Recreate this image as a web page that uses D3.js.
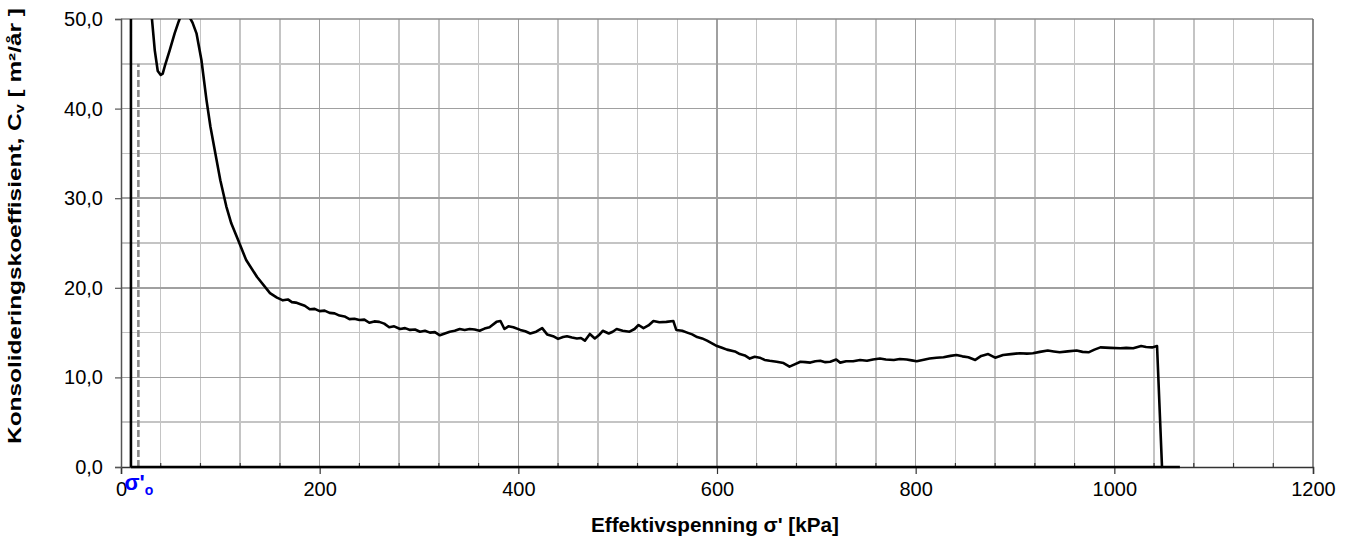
<!DOCTYPE html>
<html>
<head>
<meta charset="utf-8">
<script src="https://cdn.jsdelivr.net/npm/d3@7"></script>
<style>
  html, body { margin: 0; padding: 0; background: #fff; }
  svg { display: block; font-family: "Liberation Sans", Arial, sans-serif; }
</style>
</head>
<body>
<svg id="chart" width="1345" height="540"></svg>
<script>
// Effective stress (kPa) and consolidation coefficient cv (m²/år) along the test
const sigma = [10, 10, 30, 31, 34, 37, 40, 42, 44, 49, 54, 58, 60, 65, 69, 72, 76, 81, 86, 90, 95, 100, 106, 111, 118, 126, 137, 150, 157, 163, 168, 172, 176, 180, 185, 190, 195, 200, 205, 210, 215, 220, 225, 230, 235, 240, 245, 250, 255, 260, 265, 270, 275, 281, 286, 291, 296, 301, 306, 311, 316, 321, 326, 331, 336, 341, 346, 351, 356, 361, 366, 371, 378, 382, 386, 390, 395, 402, 407, 412, 418, 424, 429, 435, 440, 445, 449, 454, 459, 463, 467, 472, 477, 481, 485, 491, 495, 499, 505, 512, 517, 521, 526, 531, 536, 542, 549, 556, 559, 565, 570, 575, 580, 585, 590, 595, 600, 605, 610, 618, 623, 628, 633, 638, 643, 648, 653, 660, 667, 673, 677, 684, 689, 694, 699, 704, 709, 714, 720, 724, 730, 737, 744, 751, 757, 764, 770, 778, 784, 791, 796, 801, 807, 814, 821, 828, 835, 841, 847, 853, 860, 866, 873, 880, 888, 896, 905, 912, 918, 925, 933, 939, 945, 953, 962, 968, 974, 980, 986, 996, 1006, 1012, 1019, 1027, 1032, 1038, 1043, 1048, 1066];
const cv = [0, 58, 58, 50.2, 46.5, 44.2, 43.75, 43.9, 44.7, 46.5, 48.4, 49.7, 50.3, 50.5, 50.2, 49.6, 48.4, 45.4, 41.0, 38.0, 35.0, 32.0, 29.1, 27.2, 25.3, 23.1, 21.2, 19.4, 18.9, 18.6, 18.7, 18.4, 18.35, 18.2, 18.0, 17.6, 17.65, 17.4, 17.45, 17.2, 17.15, 16.9, 16.8, 16.5, 16.55, 16.4, 16.45, 16.1, 16.25, 16.2, 16.0, 15.6, 15.7, 15.4, 15.5, 15.3, 15.35, 15.1, 15.2, 15.0, 15.05, 14.7, 14.9, 15.1, 15.2, 15.4, 15.3, 15.4, 15.35, 15.2, 15.45, 15.6, 16.2, 16.3, 15.4, 15.7, 15.6, 15.3, 15.15, 14.9, 15.1, 15.5, 14.8, 14.6, 14.3, 14.5, 14.6, 14.45, 14.35, 14.4, 14.1, 14.85, 14.35, 14.7, 15.2, 14.9, 15.1, 15.4, 15.2, 15.1, 15.4, 15.85, 15.5, 15.8, 16.3, 16.15, 16.2, 16.3, 15.3, 15.2, 15.0, 14.8, 14.5, 14.35, 14.1, 13.8, 13.5, 13.3, 13.1, 12.9, 12.6, 12.45, 12.1, 12.3, 12.2, 11.95, 11.85, 11.75, 11.6, 11.2, 11.4, 11.75, 11.7, 11.65, 11.8, 11.85, 11.7, 11.75, 12.0, 11.65, 11.8, 11.8, 11.95, 11.85, 12.0, 12.1, 12.0, 11.95, 12.05, 12.0, 11.9, 11.8, 11.95, 12.1, 12.2, 12.25, 12.4, 12.5, 12.35, 12.25, 11.95, 12.4, 12.6, 12.2, 12.5, 12.6, 12.7, 12.65, 12.7, 12.85, 13.0, 12.9, 12.8, 12.9, 13.0, 12.85, 12.8, 13.1, 13.35, 13.3, 13.25, 13.3, 13.25, 13.5, 13.4, 13.35, 13.5, 0, 0];

// Zero-level series along the stress axis
const zeroSigma = [10, 1048];
const zeroCv = [0, 0];

// In-situ effective stress marker
const sigma0 = 17.5;
const sigma0Top = 45;

// Axis ticks
const xTicks = [0, 200, 400, 600, 800, 1000, 1200];
const xMinorTicks = d3.range(0, 1201, 40);
const yTicks = [0, 10, 20, 30, 40, 50];
const yMinorTicks = d3.range(0, 51, 5);

const svg = d3.select("#chart");
const W = 1345, H = 540;
const m = { left: 121, right: 32, top: 19, bottom: 73 };
const pw = W - m.left - m.right, ph = H - m.top - m.bottom;

const x = d3.scaleLinear().domain([0, 1200]).range([m.left, m.left + pw]);
const y = d3.scaleLinear().domain([0, 50]).range([m.top + ph, m.top]);

const fmt = v => d3.format(".1f")(v).replace(".", ",");

// Grid: minor lines first, major on top
const grid = svg.append("g");
grid.selectAll("line.vmin").data(xMinorTicks.filter(d => d % 200 !== 0)).join("line")
  .attr("x1", d => x(d)).attr("x2", d => x(d)).attr("y1", y(0)).attr("y2", y(50))
  .attr("stroke", "#c4c4c4").attr("stroke-width", 1.5).attr("shape-rendering", "crispEdges");
grid.selectAll("line.hmin").data(yMinorTicks.filter(d => d % 10 !== 0)).join("line")
  .attr("x1", x(0)).attr("x2", x(1200)).attr("y1", d => y(d)).attr("y2", d => y(d))
  .attr("stroke", "#c4c4c4").attr("stroke-width", 1.5).attr("shape-rendering", "crispEdges");
grid.selectAll("line.vmaj").data(xTicks.filter(d => d > 0 && d < 1200)).join("line")
  .attr("x1", d => x(d)).attr("x2", d => x(d)).attr("y1", y(0)).attr("y2", y(50))
  .attr("stroke", "#a0a0a0").attr("stroke-width", 1.5).attr("shape-rendering", "crispEdges");
grid.selectAll("line.hmaj").data(yTicks.filter(d => d > 0 && d < 50)).join("line")
  .attr("x1", x(0)).attr("x2", x(1200)).attr("y1", d => y(d)).attr("y2", d => y(d))
  .attr("stroke", "#a0a0a0").attr("stroke-width", 1.5).attr("shape-rendering", "crispEdges");

// Plot frame
svg.append("line").attr("x1", x(0)).attr("x2", x(1200)).attr("y1", y(50)).attr("y2", y(50))
  .attr("stroke", "#888").attr("stroke-width", 1.5);
svg.append("line").attr("x1", x(1200)).attr("x2", x(1200)).attr("y1", y(50)).attr("y2", y(0))
  .attr("stroke", "#666").attr("stroke-width", 1.5);

// Axes
const xAxis = svg.append("g").attr("transform", `translate(0,${y(0)})`)
  .call(d3.axisBottom(x).tickValues(xTicks).tickSize(7).tickPadding(8).tickFormat(d3.format("d")));
xAxis.select(".domain").attr("stroke", "#333").attr("stroke-width", 1.5);
xAxis.selectAll(".tick line").attr("stroke", "#333").attr("stroke-width", 1.2);
xAxis.selectAll("text").attr("font-size", 20).attr("fill", "#000")
  .attr("font-family", "'Liberation Sans', Arial, sans-serif");

// Minor inward ticks on the stress axis
svg.append("g").selectAll("line").data(xMinorTicks.filter(d => d % 200 !== 0)).join("line")
  .attr("x1", d => x(d)).attr("x2", d => x(d)).attr("y1", y(0)).attr("y2", y(0) - 4)
  .attr("stroke", "#333").attr("stroke-width", 1.2);

const yAxis = svg.append("g").attr("transform", `translate(${x(0)},0)`)
  .call(d3.axisLeft(y).tickValues(yTicks).tickSize(6).tickPadding(12).tickFormat(fmt));
yAxis.select(".domain").attr("stroke", "#555").attr("stroke-width", 1.5);
yAxis.selectAll(".tick line").attr("stroke", "#555").attr("stroke-width", 1.2);
yAxis.selectAll("text").attr("font-size", 20).attr("fill", "#000")
  .attr("font-family", "'Liberation Sans', Arial, sans-serif");

// Clip region for data
svg.append("clipPath").attr("id", "plotClip").append("rect")
  .attr("x", x(0)).attr("y", y(50)).attr("width", pw + 1).attr("height", ph + 2);

const line = d3.line().x(d => x(d[0])).y(d => y(d[1]));
const plot = svg.append("g").attr("clip-path", "url(#plotClip)");

// In-situ stress marker (dashed)
plot.append("path")
  .attr("d", line([[sigma0, 0], [sigma0, sigma0Top]]))
  .attr("fill", "none").attr("stroke", "#8a8a8a").attr("stroke-width", 2.6)
  .attr("stroke-dasharray", "7,3");

plot.append("path")
  .attr("d", line(zeroSigma.map((s, i) => [s, zeroCv[i]])))
  .attr("fill", "none").attr("stroke", "#000").attr("stroke-width", 2.6);

plot.append("path")
  .attr("d", line(sigma.map((s, i) => [s, cv[i]])))
  .attr("fill", "none").attr("stroke", "#000").attr("stroke-width", 2.6)
  .attr("stroke-linejoin", "round");

// Axis titles
svg.append("text")
  .attr("x", 715).attr("y", 532)
  .attr("text-anchor", "middle").attr("font-size", 20).attr("font-weight", "bold")
  .attr("textLength", 248).attr("lengthAdjust", "spacingAndGlyphs")
  .text("Effektivspenning σ' [kPa]");

const yt = svg.append("text")
  .attr("transform", "translate(21,226) rotate(-90)")
  .attr("text-anchor", "middle").attr("font-size", 18).attr("font-weight", "bold")
  .attr("textLength", 436).attr("lengthAdjust", "spacingAndGlyphs");
yt.append("tspan").text("Konsolideringskoeffisient,  C");
yt.append("tspan").attr("font-size", 12).attr("dy", 3).text("v");
yt.append("tspan").attr("dy", -3).text(" [ m²/år ]");

// σ'o label
const s0 = svg.append("text")
  .attr("x", x(sigma0) - 14).attr("y", 490)
  .attr("fill", "#0000ff").attr("font-weight", "bold").attr("font-size", 22);
s0.append("tspan").text("σ'");
s0.append("tspan").attr("font-size", 14).attr("dy", 5).text("o");
</script>
</body>
</html>
